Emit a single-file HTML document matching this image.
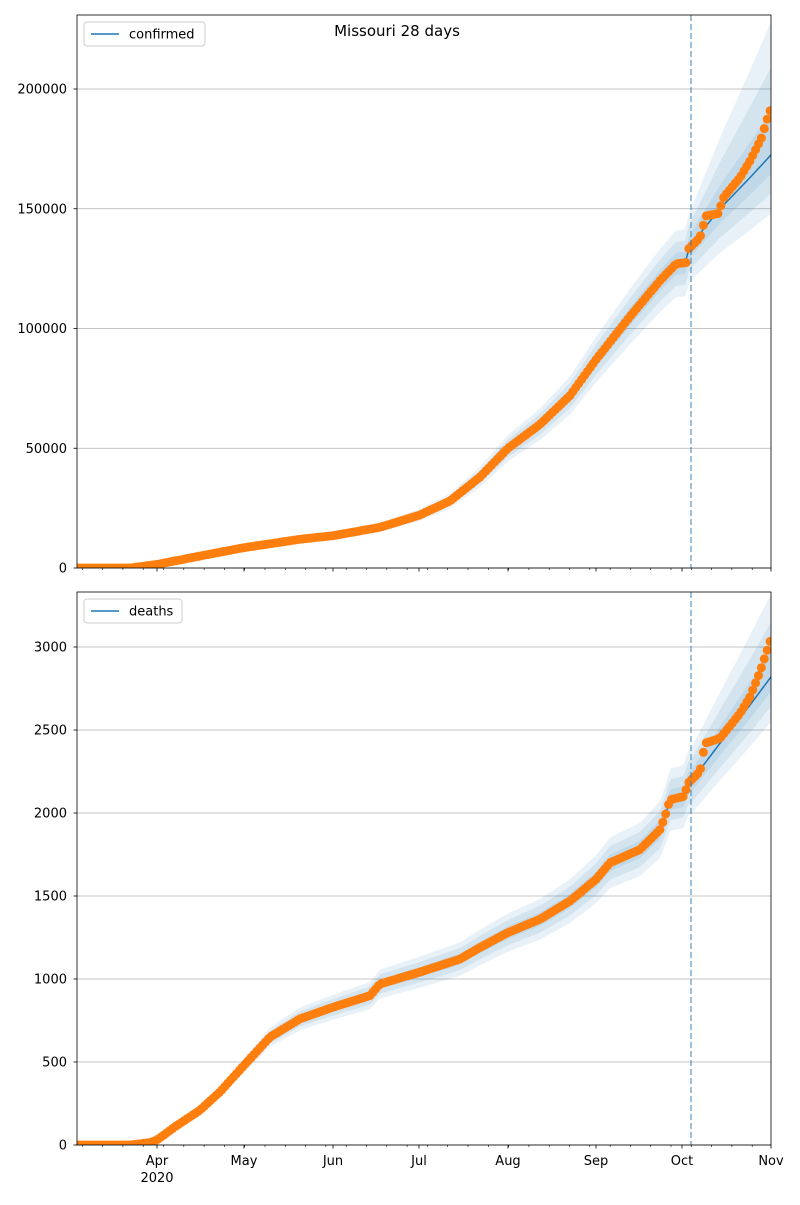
<!DOCTYPE html>
<html><head><meta charset="utf-8"><style>
body{margin:0;background:#fff}
svg{font-family:"DejaVu Sans","Liberation Sans",sans-serif}
</style></head><body>
<svg id="s" width="800" height="1200" xmlns="http://www.w3.org/2000/svg"></svg>
<script>
const S=document.getElementById('s');let h='';
const X0=77,X1=771;let cid=0;
function interp(p,x){if(x<=p[0][0])return p[0][1];for(let i=1;i<p.length;i++){if(x<=p[i][0]){const a=p[i-1],b=p[i];return a[1]+(b[1]-a[1])*(x-a[0])/(b[0]-a[0]);}}return p[p.length-1][1];}
function panel(top,bot,yv2px,pts,line,lineEnd,bandTop,bandBot,yticks,label,lw,bf){
 cid++;h+=`<defs><clipPath id="c${cid}"><rect x="${X0}" y="${top}" width="${X1-X0}" height="${bot-top}"/></clipPath></defs>`;
 yticks.forEach(v=>{const y=yv2px(v);h+=`<line x1="${X0}" x2="${X1}" y1="${y}" y2="${y}" stroke="#b0b0b0" stroke-width="0.8"/>`;
  h+=`<line x1="${X0-3.5}" x2="${X0}" y1="${y}" y2="${y}" stroke="#000" stroke-width="0.8"/><text x="${X0-10}" y="${y+4.5}" font-size="13" text-anchor="end">${v}</text>`;});
 h+=`<g clip-path="url(#c${cid})">`;
 const xs=[];for(let x=X0;x<=X1;x+=2)xs.push(x);
 const dash=691;
 const lineAt=x=>x<=dash?interp(pts,x):interp(line,x);
 [1,0.66,0.33].forEach(f=>{let up=[],dn=[];xs.forEach(x=>{const v=lineAt(x);
   let wu=v*bf,wd=v*bf;
   if(x>dash){const t=(x-dash)/(X1-dash);const b=interp(line,dash)*bf;wu=b+t*(bandTop-lineEnd-b);wd=b+t*(lineEnd-bandBot-b);}
   up.push(x+','+yv2px(v+wu*f));dn.unshift(x+','+yv2px(Math.max(0,v-wd*f)));});
  h+=`<polygon points="${up.join(' ')} ${dn.join(' ')}" fill="#1f77b4" fill-opacity="0.1"/>`;});
 let lp=[];xs.forEach(x=>{lp.push(x+','+yv2px(lineAt(x)));});
 h+=`<polyline points="${lp.join(' ')}" fill="none" stroke="#1f77b4" stroke-width="1.5"/>`;
 for(let x=X0;x<=X1+1;x+=2.9){h+=`<circle cx="${x.toFixed(1)}" cy="${yv2px(interp(pts,x)).toFixed(1)}" r="4.5" fill="#ff7f0e"/>`;}
 h+=`</g>`;
 h+=`<line x1="${dash}" x2="${dash}" y1="${top}" y2="${bot}" stroke="#1f77b4" stroke-opacity="0.6" stroke-width="1.5" stroke-dasharray="6,3"/>`;
 h+=`<rect x="${X0}" y="${top}" width="${X1-X0}" height="${bot-top}" fill="none" stroke="#000" stroke-width="0.8"/>`;
 const months=[157,244,333,419,508,596,682,771];
 for(let x=X0+5.3;x<X1;x+=20.3)h+=`<line x1="${x}" x2="${x}" y1="${bot}" y2="${bot+2}" stroke="#000" stroke-width="0.6"/>`;
 months.forEach(x=>h+=`<line x1="${x}" x2="${x}" y1="${bot}" y2="${bot+3.5}" stroke="#000" stroke-width="0.8"/>`);
 h+=`<rect x="84" y="${top+7}" width="${lw}" height="24" rx="3" fill="#fff" fill-opacity="0.8" stroke="#ccc"/>`;
 h+=`<line x1="91" x2="119" y1="${top+19}" y2="${top+19}" stroke="#1f77b4" stroke-width="1.5"/><text x="129" y="${top+23.5}" font-size="13">${label}</text>`;
}
panel(15,568,v=>568-v*479/200000,
 [[77,0],[130,0],[157,1500],[200,5000],[244,8500],[300,12000],[333,13500],[380,17000],[419,22000],[450,28000],[480,38000],[508,50000],[540,60000],[570,72000],[596,87000],[630,105000],[660,120000],[676,127000],[686,127500],[688,133000],[700,138000],[706,147000],[718,148000],[724,155000],[740,163000],[750,170000],[762,180000],[766,186000],[771,192000]],
 [[691,135000],[720,150000],[750,163000],[771,172500]],172500,228000,148000,[0,50000,100000,150000,200000],'confirmed',121,0.11);
panel(592,1145,v=>1145-v*498/3000,
 [[77,0],[130,0],[150,15],[157,30],[175,110],[200,210],[220,320],[244,480],[270,650],[300,760],[333,830],[370,900],[380,970],[419,1040],[460,1120],[480,1190],[508,1280],[540,1360],[570,1470],[596,1600],[610,1700],[640,1780],[660,1900],[665,1980],[670,2080],[684,2100],[688,2180],[700,2250],[705,2420],[720,2450],[740,2600],[750,2700],[760,2850],[771,3050]],
 [[691,2190],[720,2420],[750,2650],[771,2820]],2820,3320,2550,[0,500,1000,1500,2000,2500,3000],'deaths',98,0.09);
const labs=[[157,'Apr'],[244,'May'],[333,'Jun'],[419,'Jul'],[508,'Aug'],[596,'Sep'],[682,'Oct'],[771,'Nov']];
labs.forEach(([x,t])=>h+=`<text x="${x}" y="1165" font-size="13" text-anchor="middle">${t}</text>`);
h+=`<text x="157" y="1182" font-size="13" text-anchor="middle">2020</text>`;
h+=`<text x="397" y="36" font-size="15" text-anchor="middle">Missouri 28 days</text>`;
S.innerHTML=h;
</script>
</body></html>
